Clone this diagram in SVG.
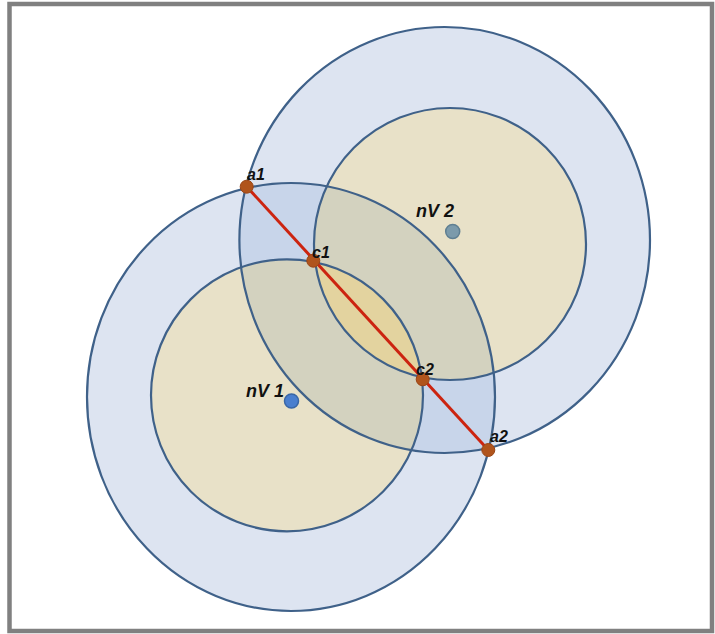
<svg xmlns="http://www.w3.org/2000/svg" width="715" height="634" viewBox="0 0 715 634">
  <style>
    .ring { fill: none; stroke: #3f6189; stroke-width: 2.2; }
    .lbl { font-family: "Liberation Sans", Arial, sans-serif; font-weight: bold; font-style: italic; fill: #111; }
    .pt { fill: #b0541c; stroke: #9a4515; stroke-width: 1; }
  </style>
  <defs>
    <ellipse id="o1" cx="291" cy="397" rx="204" ry="214"/>
    <ellipse id="o2" cx="444.7" cy="240" rx="205.3" ry="213"/>
    <circle id="i1" cx="287" cy="395.3" r="136"/>
    <circle id="i2" cx="450" cy="244" r="136"/>
    <clipPath id="cO1"><use href="#o1"/></clipPath>
    <clipPath id="cO2"><use href="#o2"/></clipPath>
    <clipPath id="cI1"><use href="#i1"/></clipPath>
  </defs>
  <rect x="0" y="0" width="715" height="634" fill="#ffffff"/>
  <rect x="9.5" y="4" width="702.5" height="627" fill="none" stroke="#808080" stroke-width="4.5"/>

  <g id="regions">
    <use href="#o1" fill="#dde4f1"/>
    <use href="#o2" fill="#dde4f1"/>
    <use href="#o2" fill="#c8d5ea" clip-path="url(#cO1)"/>
    <use href="#i1" fill="#e8e1c8"/>
    <use href="#i2" fill="#e8e1c8"/>
    <use href="#i1" fill="#d3d2bf" clip-path="url(#cO2)"/>
    <use href="#i2" fill="#d3d2bf" clip-path="url(#cO1)"/>
    <use href="#i2" fill="#e3d39f" clip-path="url(#cI1)"/>
  </g>

  <g id="nV1">
    <use href="#o1" class="ring"/>
    <use href="#i1" class="ring"/>
    <circle cx="291.5" cy="401" r="7" fill="#4a7fcf" stroke="#3a67a6" stroke-width="1.5"/>
    <text class="lbl" x="246" y="396.5" font-size="18">nV 1</text>
  </g>

  <g id="nV2">
    <use href="#o2" class="ring"/>
    <use href="#i2" class="ring"/>
    <circle cx="452.7" cy="231.5" r="7" fill="#7b9aab" stroke="#5f7f92" stroke-width="1.5"/>
    <text class="lbl" x="416" y="216.5" font-size="18">nV 2</text>
  </g>

  <g id="connectors">
    <line x1="246.7" y1="186.7" x2="488.3" y2="450" stroke="#cc2410" stroke-width="3"/>
  </g>

  <g id="a1">
    <circle class="pt" cx="246.7" cy="186.7" r="6.5"/>
    <text class="lbl" x="247" y="180" font-size="16">a1</text>
  </g>
  <g id="c1">
    <circle class="pt" cx="313.3" cy="260.7" r="6.5"/>
    <text class="lbl" x="312" y="258" font-size="16">c1</text>
  </g>
  <g id="c2">
    <circle class="pt" cx="422.7" cy="379.3" r="6.5"/>
    <text class="lbl" x="416" y="375" font-size="16">c2</text>
  </g>
  <g id="a2">
    <circle class="pt" cx="488.3" cy="450" r="6.5"/>
    <text class="lbl" x="490" y="442" font-size="16">a2</text>
  </g>
</svg>
